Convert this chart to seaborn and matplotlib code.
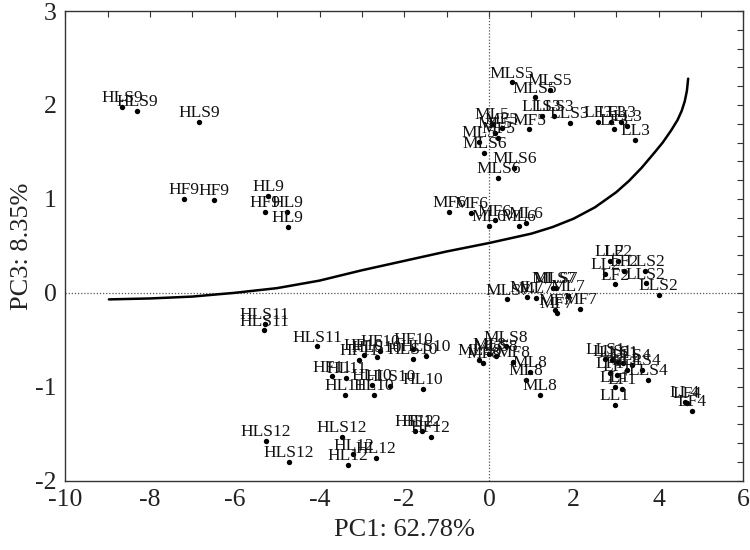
import matplotlib
matplotlib.use("Agg")
import matplotlib.pyplot as plt
import seaborn as sns
import pandas as pd
from matplotlib.ticker import MultipleLocator

# ---- data ----
labels = (["HLS9"] * 3 + ["HF9"] * 3 + ["HL9"] * 3 +
          ["HLS11"] * 3 + ["HF11"] * 2 + ["HL11"] * 2 +
          ["HF10"] * 3 + ["HLS10"] * 4 + ["HL10"] * 3 +
          ["HLS12"] * 3 + ["HL12"] * 3 + ["HF12"] * 3 +
          ["MLS5"] * 3 + ["MF5"] * 3 + ["ML5"] * 3 +
          ["MLS6"] * 3 + ["MF6"] * 3 + ["ML6"] * 3 +
          ["MLS7"] * 3 + ["ML7"] * 3 + ["MF7"] * 3 +
          ["MLS8"] * 3 + ["MF8"] * 3 + ["ML8"] * 3 +
          ["LLS3"] * 3 + ["LF3"] * 3 + ["LL3"] * 3 +
          ["LF2"] * 3 + ["LL2"] * 2 + ["LLS2"] * 3 +
          ["LLS1"] * 3 + ["LF1"] * 3 + ["LL1"] * 3 +
          ["LLS4"] * 3 + ["LL4"] * 2 + ["LF4"] * 2)

pc1 = [-8.66, -8.30, -6.84, -7.19, -6.50, -5.28, -5.21, -4.76, -4.75,
       -5.31, -5.29, -4.05, -3.71, -3.07, -3.37, -3.40,
       -2.96, -2.57, -1.79, -2.65, -2.33, -1.80, -1.49, -2.77, -2.72, -1.56,
       -5.26, -4.73, -3.47, -3.20, -3.32, -2.67, -1.75, -1.59, -1.38,
       0.54, 1.44, 1.08, 0.95, 0.22, 0.30, -0.23, 0.06, 0.14,
       -0.11, 0.60, 0.22, -0.94, -0.42, 0.13, 0.00, 0.71, 0.87,
       0.43, 1.52, 1.58, 0.90, 1.10, 1.87, 1.56, 1.60, 2.15,
       0.40, 0.16, -0.23, 0.01, -0.13, 0.57, 0.97, 0.87, 1.20,
       1.24, 1.53, 1.90, 2.58, 2.89, 2.94, 3.12, 3.26, 3.45,
       3.05, 2.97, 3.19, 2.85, 2.74, 3.68, 3.70, 4.00,
       2.74, 2.90, 3.05, 2.85, 3.01, 3.13, 2.97, 2.97, 3.17,
       3.37, 3.60, 3.75, 3.25, 4.62, 4.68, 4.80]

pc3 = [1.98, 1.94, 1.82, 1.00, 0.99, 0.86, 1.03, 0.86, 0.70,
       -0.40, -0.33, -0.57, -0.89, -0.71, -0.91, -1.09,
       -0.66, -0.62, -0.60, -0.68, -0.99, -0.70, -0.67, -0.98, -1.09, -1.02,
       -1.58, -1.80, -1.53, -1.72, -1.83, -1.76, -1.47, -1.47, -1.53,
       2.24, 2.16, 2.08, 1.74, 1.65, 1.75, 1.61, 1.80, 1.70,
       1.49, 1.33, 1.22, 0.86, 0.85, 0.77, 0.71, 0.71, 0.74,
       -0.07, 0.05, 0.05, -0.04, -0.05, -0.03, -0.18, -0.21, -0.17,
       -0.57, -0.67, -0.71, -0.65, -0.75, -0.74, -0.84, -0.93, -1.09,
       1.88, 1.88, 1.81, 1.82, 1.82, 1.74, 1.82, 1.78, 1.63,
       0.34, 0.09, 0.23, 0.34, 0.20, 0.23, 0.10, -0.02,
       -0.70, -0.72, -0.74, -0.85, -0.88, -1.02, -1.00, -1.19, -0.75,
       -0.77, -0.82, -0.93, -0.82, -1.16, -1.17, -1.26]

curve_x = [-8.97, -8.0, -7.0, -6.0, -5.0, -4.0, -3.0, -2.0, -1.0, 0.0,
           0.5, 1.0, 1.5, 2.0, 2.5, 3.0, 3.3, 3.6, 3.9, 4.1, 4.3,
           4.45, 4.55, 4.62, 4.67, 4.70]
curve_y = [-0.07, -0.06, -0.04, 0.00, 0.05, 0.13, 0.24, 0.34, 0.44, 0.53,
           0.58, 0.63, 0.70, 0.79, 0.91, 1.07, 1.19, 1.33, 1.49, 1.60, 1.73,
           1.84, 1.94, 2.04, 2.15, 2.28]

x_ticks = [-10, -8, -6, -4, -2, 0, 2, 4, 6]
y_ticks = [-2, -1, 0, 1, 2, 3]
x_label = "PC1: 62.78%"
y_label = "PC3: 8.35%"

# ---- plot ----
sns.set_theme(style="white")
plt.rcParams["font.family"] = ["Liberation Serif", "DejaVu Serif"]
plt.rcParams["axes.unicode_minus"] = False

df = pd.DataFrame({"pc1": pc1, "pc3": pc3, "label": labels})
curve = pd.DataFrame({"x": curve_x, "y": curve_y})

fig = plt.figure(figsize=(7.5, 5.5), dpi=100)
ax = fig.add_axes([0.087, 0.126, 0.904, 0.854])

ax.axhline(0, color="#555555", lw=0.9, ls=(0, (1, 1.5)), zorder=1)
ax.axvline(0, color="#555555", lw=0.9, ls=(0, (1, 1.5)), zorder=1)

sns.lineplot(data=curve, x="x", y="y", sort=False, estimator=None,
             color="black", lw=1.8, ax=ax, zorder=2)
sns.scatterplot(data=df, x="pc1", y="pc3", color="black", s=15,
                edgecolor="black", linewidth=0, ax=ax, zorder=3)

for lab, xv, yv in zip(labels, pc1, pc3):
    ax.annotate(lab, (xv, yv), xytext=(0, 3.5), textcoords="offset points",
                ha="center", va="baseline", fontsize=12.5, color="#111111",
                zorder=4)

ax.set_xlim(-10, 6)
ax.set_ylim(-2, 3)
ax.set_xticks(x_ticks)
ax.set_yticks(y_ticks)
ax.xaxis.set_minor_locator(MultipleLocator(1))
ax.yaxis.set_minor_locator(MultipleLocator(0.2))
ax.tick_params(which="both", direction="in", top=True, right=True,
               length=4, width=0.8, color="#333333")
ax.tick_params(which="major", labelsize=18.5, labelcolor="#222222", pad=6)

for sp in ax.spines.values():
    sp.set_color("#333333")
    sp.set_linewidth(1.0)

ax.set_xlabel(x_label, fontsize=19, color="#222222", labelpad=6)
ax.set_ylabel(y_label, fontsize=19, color="#222222", labelpad=2)

fig.savefig("out.png", dpi=100)
